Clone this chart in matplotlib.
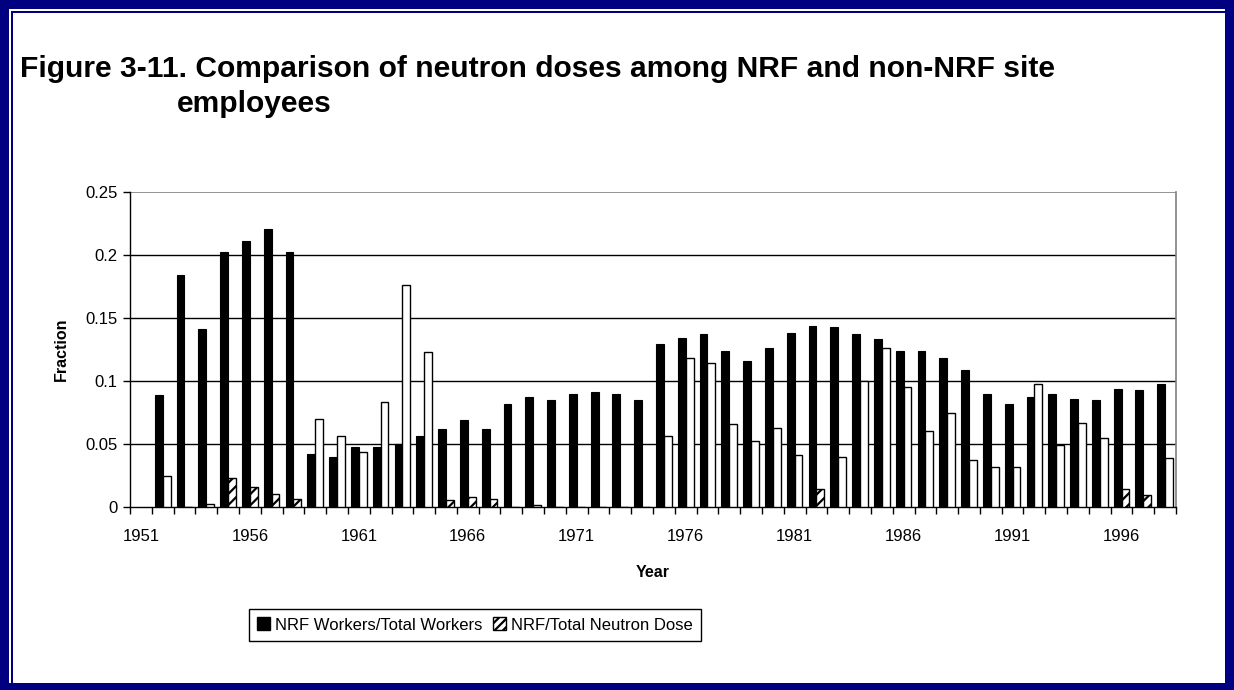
import numpy as np
import matplotlib
matplotlib.use("Agg")
import matplotlib.pyplot as plt
from matplotlib.patches import Rectangle, Patch

plt.rcParams["font.family"] = ["Liberation Sans", "DejaVu Sans"]
plt.rcParams["hatch.linewidth"] = 1.6

years = list(range(1951, 1999))
workers = [np.nan, 0.089, 0.184, 0.141, 0.202, 0.211, 0.221, 0.202, 0.042, 0.040,
           0.0475, 0.048, 0.050, 0.0565, 0.062, 0.069, 0.062, 0.082, 0.0875, 0.085,
           0.090, 0.0915, 0.090, 0.085, 0.129, 0.134, 0.1375, 0.124, 0.1155, 0.1265,
           0.138, 0.144, 0.1425, 0.1375, 0.133, 0.124, 0.124, 0.118, 0.109, 0.090,
           0.082, 0.0875, 0.090, 0.086, 0.085, 0.094, 0.093, 0.098]
dose = [np.nan, 0.025, 0.0, 0.002, 0.023, 0.016, 0.0105, 0.0065, 0.070, 0.056,
        0.044, 0.083, 0.176, 0.123, 0.0055, 0.008, 0.006, 0.0, 0.0015, 0.0,
        0.0, 0.0, 0.0, 0.0, 0.056, 0.118, 0.114, 0.066, 0.052, 0.0625,
        0.0415, 0.0145, 0.040, 0.100, 0.1265, 0.0955, 0.060, 0.075, 0.037, 0.032,
        0.032, 0.098, 0.0495, 0.067, 0.0545, 0.0145, 0.0095, 0.039]
hatched_years = [1955, 1956, 1957, 1958, 1965, 1966, 1967, 1982, 1996, 1997]

fig = plt.figure(figsize=(12.34, 6.9), dpi=100)

# navy frame
W, H = 1234, 690
navy = "#000080"
def px_rect(x, y, w, h, **kw):
    fig.patches.append(Rectangle((x / W, 1 - (y + h) / H), w / W, h / H,
                                 transform=fig.transFigure, figure=fig, **kw))
px_rect(0, 0, W, 9, color=navy, lw=0)
px_rect(0, 0, 9, H, color=navy, lw=0)
px_rect(W - 9, 0, 9, H, color=navy, lw=0)
px_rect(0, H - 7, W, 7, color=navy, lw=0)
px_rect(11, 11, 2, H - 18, color=navy, lw=0)
px_rect(11, 11, W - 20, 2, color=navy, lw=0)

fig.text(20 / W, 1 - 69 / H, "Figure 3-11. Comparison of neutron doses among NRF and non-NRF site",
         fontsize=21.6, fontweight="bold", va="center", ha="left")
fig.text(177 / W, 1 - 104 / H, "employees",
         fontsize=21.6, fontweight="bold", va="center", ha="left")

ax = fig.add_axes([130 / W, 1 - 507 / H, (1176 - 130) / W, (507 - 192) / H])

x = np.arange(len(years))
bw = 0.36
ax.bar(x - bw / 2, workers, width=bw, color="black", edgecolor="black", lw=0.8, zorder=3)
bars = ax.bar(x + bw / 2, dose, width=bw, color="white", edgecolor="black", lw=1.0, zorder=3)
for yr, b in zip(years, bars):
    if yr in hatched_years:
        b.set_hatch("///")

ax.set_xlim(-0.5, len(years) - 0.5)
ax.set_ylim(0, 0.25)
ax.set_yticks([0, 0.05, 0.1, 0.15, 0.2, 0.25])
ax.set_yticklabels(["0", "0.05", "0.1", "0.15", "0.2", "0.25"])
for yv in [0.05, 0.1, 0.15, 0.2]:
    ax.axhline(yv, color="black", lw=1.0, zorder=1)
ax.axhline(0.25, color="#808080", lw=1.2, zorder=1)

ax.set_xticks(x[::5])
ax.set_xticklabels([str(y) for y in years[::5]])
ax.set_xticks(np.arange(-0.5, len(years)), minor=True)
ax.tick_params(axis="x", which="major", length=0, pad=16, labelsize=12)
ax.tick_params(axis="x", which="minor", length=5, direction="out", width=1)
ax.tick_params(axis="y", length=5, direction="out", width=1, labelsize=12, pad=4)

ax.spines["top"].set_visible(False)
ax.spines["right"].set_color("#808080")
ax.spines["right"].set_linewidth(1.2)
ax.spines["left"].set_linewidth(1.0)
ax.spines["bottom"].set_linewidth(1.0)

ax.set_ylabel("Fraction", fontsize=11.5, fontweight="bold", labelpad=12)
ax.set_xlabel("Year", fontsize=11.5, fontweight="bold", labelpad=15)

handles = [Patch(facecolor="black", edgecolor="black"),
           Patch(facecolor="white", edgecolor="black", hatch="////")]
fig.legend(handles, ["NRF Workers/Total Workers", "NRF/Total Neutron Dose"],
           loc="center", bbox_to_anchor=(475 / W, 1 - 625 / H), ncol=2,
           frameon=True, fancybox=False, edgecolor="black", fontsize=12,
           handlelength=0.8, handleheight=0.8, handletextpad=0.3,
           columnspacing=0.6, borderpad=0.5, framealpha=1)

fig.savefig("out.png", dpi=100)
